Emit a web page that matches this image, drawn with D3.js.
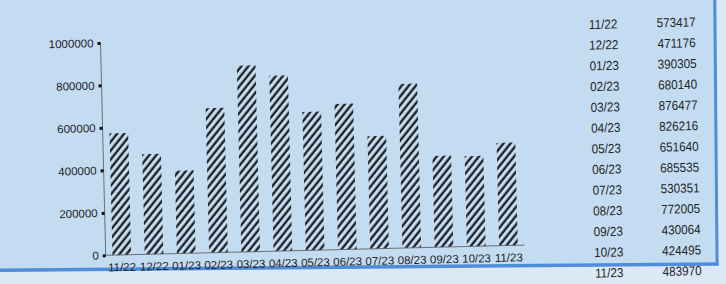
<!DOCTYPE html>
<html>
<head>
<meta charset="utf-8">
<script src="https://cdn.jsdelivr.net/npm/d3@7"></script>
<style>
  html, body { margin: 0; padding: 0; background: #dae8f6; }
  svg { display: block; }
  text { font-family: "Liberation Sans", Arial, Helvetica, sans-serif; fill: #1e1e1e; }
</style>
</head>
<body>
<div id="chart"></div>
<script>
const categories = ["11/22","12/22","01/23","02/23","03/23","04/23","05/23","06/23","07/23","08/23","09/23","10/23","11/23"];
const values = [573417,471176,390305,680140,876477,826216,651640,685535,530351,772005,430064,424495,483970];
const yTicks = [0,200000,400000,600000,800000,1000000];

const W = 726, H = 284;
const svg = d3.select("#chart").append("svg").attr("width", W).attr("height", H);

svg.append("rect").attr("width", W).attr("height", H).attr("fill", "#dbe8f6");

const defs = svg.append("defs");
const pat = defs.append("pattern")
  .attr("id", "hatch")
  .attr("patternUnits", "userSpaceOnUse")
  .attr("width", 5.5).attr("height", 6)
  .attr("patternTransform", "rotate(40)");
pat.append("line")
  .attr("x1", 1.5).attr("y1", -1).attr("x2", 1.5).attr("y2", 7)
  .attr("stroke", "#151515").attr("stroke-width", 2.2);

// panel + border (slightly different tilt, as in the photo)
const pg = svg.append("g").attr("transform", "rotate(-0.5, 363, 142)");
pg.append("rect").attr("x", -60).attr("y", -60).attr("width", 776).attr("height", 327).attr("fill", "#c4dcf2");
pg.append("line").attr("x1", -60).attr("x2", 717.5).attr("y1", 267).attr("y2", 267)
  .attr("stroke", "#4f8ddb").attr("stroke-width", 3.5);
pg.append("line").attr("x1", 716).attr("x2", 716).attr("y1", -60).attr("y2", 268.5)
  .attr("stroke", "#4f8ddb").attr("stroke-width", 3);

const g = svg.append("g").attr("transform", "rotate(-1.4, 363, 142)");

const x0 = 103, x1 = 522, yBase = 249, yTop = 36.5;

const x = d3.scaleBand().domain(categories).range([x0, x1]).paddingInner(0.42).paddingOuter(0.21);
const y = d3.scaleLinear().domain([0, 1000000]).range([yBase, yTop]);

// bars
g.append("g").selectAll("rect").data(values).join("rect")
  .attr("x", (d, i) => x(categories[i]))
  .attr("y", d => y(d))
  .attr("width", x.bandwidth())
  .attr("height", d => y(0) - y(d))
  .attr("fill", "url(#hatch)");

// y axis
const yAxis = g.append("g").attr("transform", `translate(${x0},0)`)
  .call(d3.axisLeft(y).tickValues(yTicks).tickFormat(d3.format("d")).tickSize(3).tickPadding(4));
yAxis.select(".domain").attr("stroke", "#555").attr("stroke-width", 0.8).attr("d", `M0,${yTop}V${yBase}`);
yAxis.selectAll(".tick line").attr("stroke", "#111").attr("stroke-width", 3);
yAxis.selectAll(".tick text").attr("font-size", "11.5px").attr("fill", "#1a1a1a")
  .attr("font-family", "Liberation Sans, Arial, sans-serif");

// x axis
const xAxis = g.append("g").attr("transform", `translate(0,${yBase})`)
  .call(d3.axisBottom(x).tickSize(0).tickPadding(8));
xAxis.select(".domain").attr("stroke", "#555").attr("stroke-width", 0.8).attr("d", `M${x0},0H${x1}`);
xAxis.selectAll(".tick text").attr("font-size", "11.5px").attr("fill", "#1a1a1a")
  .attr("font-family", "Liberation Sans, Arial, sans-serif");

// table
const rowY = d3.scalePoint().domain(categories).range([29.9, 278.7]);
const table = g.append("g");
table.selectAll("text.lab").data(categories).join("text")
  .attr("class", "lab")
  .attr("transform", d => `translate(606,${rowY(d)}) scale(0.9,1)`)
  .attr("dy", "0.36em").attr("text-anchor", "middle")
  .attr("font-size", "13px")
  .text(d => d);
table.selectAll("text.val").data(values).join("text")
  .attr("class", "val")
  .attr("transform", (d, i) => `translate(679,${rowY(categories[i])}) scale(0.9,1)`)
  .attr("dy", "0.36em").attr("text-anchor", "middle")
  .attr("font-size", "13px")
  .text(d => d);
</script>
</body>
</html>
